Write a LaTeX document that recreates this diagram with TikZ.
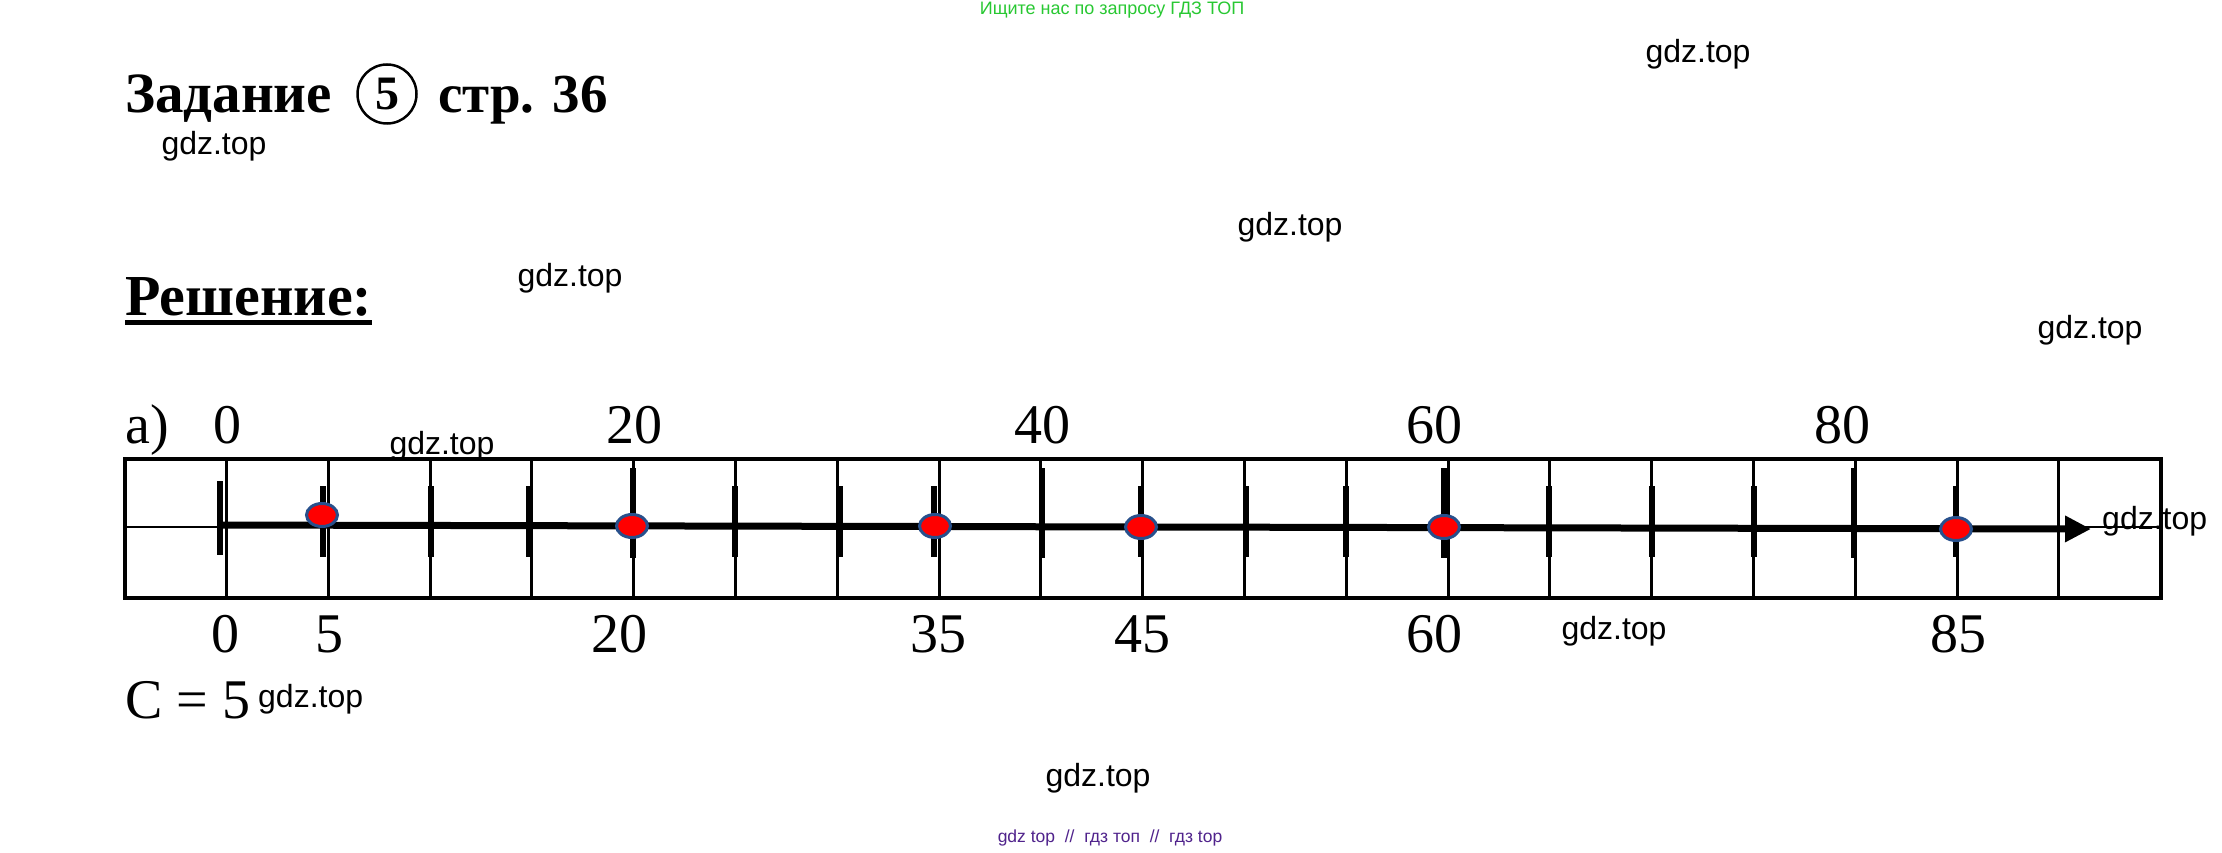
\documentclass[tikz,border=0pt]{standalone}
\usepackage{fontspec}
\setmainfont{Liberation Serif}
\setsansfont{Liberation Sans}
\usetikzlibrary{arrows.meta,shapes.geometric}
\definecolor{dotblue}{RGB}{40,80,140}
\definecolor{wmgreen}{RGB}{40,200,50}
\definecolor{wmpurple}{RGB}{80,35,140}
\newcommand{\fsz}[1]{\fontsize{#1}{#1}\selectfont}
\begin{document}
\begin{tikzpicture}[x=1pt,y=-1pt,
  wm/.style={font=\sffamily\fsz{32}, inner sep=0pt},
  num/.style={font=\fsz{56}, inner sep=0pt, anchor=base},
  gridline/.style={line width=3pt},
  ticknorm/.style={line width=6pt},
  reddot/.style={ellipse, fill=red, draw=dotblue, line width=3pt, minimum width=31pt, minimum height=23pt, inner sep=0pt},
  title/.style={font=\bfseries\fsz{57}, inner sep=0pt, anchor=base west}
]
\useasboundingbox (0,0) rectangle (2222,853);
\fill[white] (0,0) rectangle (2222,853);

% header watermark
\node[font=\sffamily\fsz{18}, text=wmgreen, inner sep=0pt] (top) at (1112,10) {Ищите нас по запросу ГДЗ ТОП};

% title
\node[title] (t1) at (125,113) {Задание};
\node[circle, draw, line width=2.5pt, minimum size=59pt, inner sep=0pt, font=\bfseries\fsz{48}] (circ) at (387,94) {5};
\node[title, font=\bfseries\fsz{55}] (t2) at (438,113) {стр. 36};

% solution heading
\node[font=\bfseries\fsz{58}, inner sep=0pt, anchor=base west] (sol) at (125,315) {Решение:};
\draw[line width=5pt] ([yshift=-7pt]sol.base west) -- ([yshift=-7pt]sol.base east);

% grid
\draw[line width=4pt] (124.7,459) rectangle (2161,598);
\foreach \k in {1,...,19}{
  \draw[gridline] ({124.7+101.8*\k},459) -- ({124.7+101.8*\k},598);
}
\coordinate (ml) at (124.7,527);
\coordinate (mr) at (2161,527);
\draw[line width=2.5pt] (ml) -- (mr);

% ticks
\foreach \x in {323,431,529,735,840,934,1141,1246,1346,1549,1652,1754,1956}{
  \draw[ticknorm] (\x,486) -- (\x,557);
}
\foreach \x in {633,1042,1444,1854}{
  \draw[ticknorm] (\x,468) -- (\x,558);
}
\draw[ticknorm] (220,481) -- (220,555);

% number line
\coordinate (ls) at (218,525);
\coordinate (le) at (2091,529);
\draw[line width=7pt, -{Triangle[length=26pt,width=25pt]}] (ls) -- (le);

% dots
\node[reddot] (d5) at (322,515) {};
\node[reddot] (d20) at (632,526) {};
\node[reddot] (d35) at (935,526) {};
\node[reddot] (d45) at (1141,527) {};
\node[reddot] (d60) at (1444,527) {};
\node[reddot] (d85) at (1956,529) {};

% top labels
\node[font=\fsz{56}, inner sep=0pt, anchor=base west] (a) at (125,443) {а)};
\node[num] (u0) at (227,443) {0};
\node[num] (u20) at (634,443) {20};
\node[num] (u40) at (1042,443) {40};
\node[num] (u60) at (1434,443) {60};
\node[num] (u80) at (1842,443) {80};

% bottom labels
\node[num] (b0) at (225,652) {0};
\node[num] (b5) at (329,652) {5};
\node[num] (b20) at (619,652) {20};
\node[num] (b35) at (938,652) {35};
\node[num] (b45) at (1142,652) {45};
\node[num] (b60) at (1434,652) {60};
\node[num] (b85) at (1958,652) {85};

\node[font=\fsz{56}, inner sep=0pt, anchor=base west] (c5) at (125,718) {C = 5};

% watermarks
\node[wm] (w1) at (1698,54) {gdz.top};
\node[wm] (w2) at (214,146) {gdz.top};
\node[wm] (w3) at (1290,227) {gdz.top};
\node[wm] (w4) at (570,278) {gdz.top};
\node[wm] (w5) at (2090,330) {gdz.top};
\node[wm] (w6) at (442,446) {gdz.top};
\node[wm, anchor=west] (w7) at (2102,521) {gdz.top};
\node[wm] (w8) at (1614,631) {gdz.top};
\node[wm, anchor=west] (w9) at (258,699) {gdz.top};
\node[wm] (w10) at (1098,778) {gdz.top};

\node[font=\sffamily\fsz{17.5}, text=wmpurple, inner sep=0pt] (bot) at (1110,838) {gdz top\ \ //\ \ гдз топ\ \ //\ \ гдз top};
\end{tikzpicture}
\end{document}
